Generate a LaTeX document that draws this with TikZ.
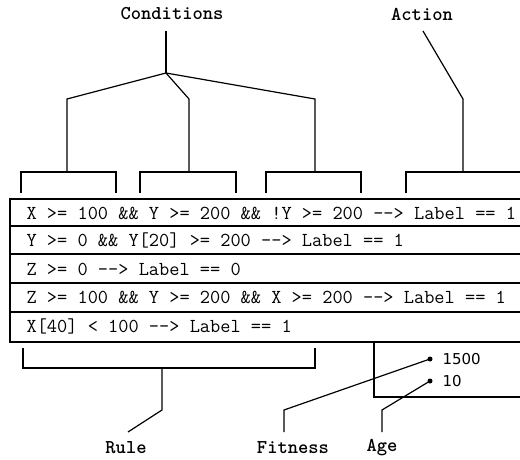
\documentclass[tikz,border=0pt]{standalone}
\usepackage{fontspec}
\newfontfamily\numfont{DejaVu Sans}
\begin{document}
\begin{tikzpicture}[x=1pt,y=-1pt,line width=1.2pt,
  rowtext/.style={anchor=west,font=\ttfamily\fontsize{19.8}{21}\selectfont,inner sep=0pt},
  lbl/.style={font=\ttfamily\bfseries\fontsize{19.6}{21}\selectfont,inner sep=0pt},
  numtext/.style={anchor=west,font=\numfont\fontsize{15}{17}\selectfont,inner sep=0pt},
  tbl/.style={line width=2.6pt},
  dotmark/.style={circle,fill,inner sep=0pt,minimum size=5pt}]
\useasboundingbox (0,0) rectangle (520,460);
% table rows
\foreach \a/\b in {199/226,226/254,254/283,283/312,312/342}
  \draw[tbl] (10,\a) rectangle (545,\b);
\draw[tbl] (374,342) rectangle (545,397);
\node[rowtext] (r1) at (26,213) {X >= 100 \&\& Y >= 200 \&\& !Y >= 200 -{}-> Label == 1};
\node[rowtext] (r2) at (26,240) {Y >= 0 \&\& Y[20] >= 200 -{}-> Label == 1};
\node[rowtext] (r3) at (26,269) {Z >= 0 -{}-> Label == 0};
\node[rowtext] (r4) at (26,297) {Z >= 100 \&\& Y >= 200 \&\& X >= 200 -{}-> Label == 1};
\node[rowtext] (r5) at (26,326) {X[40] < 100 -{}-> Label == 1};
% labels
\node[lbl] (cond) at (172,14) {Conditions};
\node[lbl] (act) at (422,14) {Action};
\node[lbl] (rule) at (126,448) {Rule};
\node[lbl] (fit) at (293,448) {Fitness};
\node[lbl] (age) at (382,448) {Age};
% condition tree
\coordinate (ctop) at (166,31);
\coordinate (cj) at (166,73);
\coordinate (b1) at (67,172);
\coordinate (b2) at (189,172);
\coordinate (b3) at (315,172);
\draw (ctop) -- (cj);
\draw (cj) -- (67,99) -- (b1);
\draw (cj) -- (189,99) -- (b2);
\draw (cj) -- (315,99) -- (b3);
\draw (21,193) |- (116,172) -- (116,193);
\draw (140,193) |- (236,172) -- (236,193);
\draw (266,193) |- (361,172) -- (361,193);
% action
\coordinate (atop) at (423,31);
\coordinate (b4) at (463,172);
\draw (atop) -- (463,99) -- (b4);
\draw (406,193) |- (545,172);
% rule bracket
\coordinate (rb) at (162,368);
\draw (23,348) |- (315,368) -- (315,348);
\coordinate (rbot) at (128,432);
\draw (rb) -- (162,410) -- (rbot);
% fitness & age
\node[dotmark] (fd) at (430,359) {};
\node[dotmark] (ad) at (430,381) {};
\node[numtext] (fv) at (442,359) {1500};
\node[numtext] (av) at (442,381) {10};
\coordinate (fbot) at (284,432);
\coordinate (abot) at (382,432);
\draw (fd.center) -- (284,410) -- (fbot);
\draw (ad.center) -- (382,410) -- (abot);
\end{tikzpicture}
\end{document}
